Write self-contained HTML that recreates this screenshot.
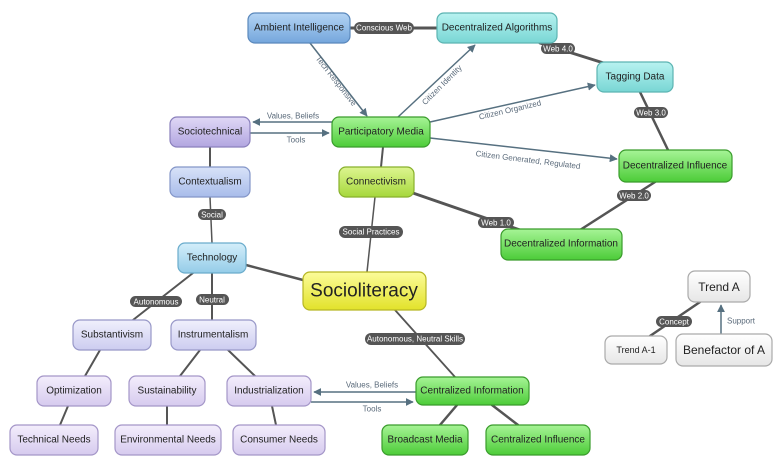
<!DOCTYPE html>
<html><head><meta charset="utf-8"><style>
html,body{margin:0;padding:0;background:#fff;}
svg{display:block;font-family:"Liberation Sans",sans-serif;}
.n{font-size:10px;fill:#222;text-anchor:middle;dominant-baseline:central;}
.pl{font-size:8px;fill:#fff;text-anchor:middle;dominant-baseline:central;}
.al{font-size:8px;fill:#5a6a7a;text-anchor:middle;dominant-baseline:central;}
</style></head><body>
<svg width="780" height="462" viewBox="0 0 780 462">
<defs>
<linearGradient id="gb" x1="0" y1="0" x2="0" y2="1"><stop offset="0" stop-color="#b4d4f4"/><stop offset="1" stop-color="#74a6dc"/></linearGradient>
<linearGradient id="gc" x1="0" y1="0" x2="0" y2="1"><stop offset="0" stop-color="#b8f2f0"/><stop offset="1" stop-color="#78d6d4"/></linearGradient>
<linearGradient id="gg" x1="0" y1="0" x2="0" y2="1"><stop offset="0" stop-color="#a6f496"/><stop offset="1" stop-color="#4ccc38"/></linearGradient>
<linearGradient id="gl" x1="0" y1="0" x2="0" y2="1"><stop offset="0" stop-color="#ddf590"/><stop offset="1" stop-color="#a6d83c"/></linearGradient>
<linearGradient id="gp" x1="0" y1="0" x2="0" y2="1"><stop offset="0" stop-color="#e0d8f6"/><stop offset="1" stop-color="#b2a6e0"/></linearGradient>
<linearGradient id="gx" x1="0" y1="0" x2="0" y2="1"><stop offset="0" stop-color="#d8e2f8"/><stop offset="1" stop-color="#a8bcea"/></linearGradient>
<linearGradient id="gt" x1="0" y1="0" x2="0" y2="1"><stop offset="0" stop-color="#d4eefa"/><stop offset="1" stop-color="#94cce8"/></linearGradient>
<linearGradient id="gs" x1="0" y1="0" x2="0" y2="1"><stop offset="0" stop-color="#f0f0fc"/><stop offset="1" stop-color="#ccccf0"/></linearGradient>
<linearGradient id="gn" x1="0" y1="0" x2="0" y2="1"><stop offset="0" stop-color="#f4eefc"/><stop offset="1" stop-color="#d6caee"/></linearGradient>
<linearGradient id="gy" x1="0" y1="0" x2="0" y2="1"><stop offset="0" stop-color="#fcfc9a"/><stop offset="1" stop-color="#e2e22a"/></linearGradient>
<linearGradient id="gw" x1="0" y1="0" x2="0" y2="1"><stop offset="0" stop-color="#ffffff"/><stop offset="1" stop-color="#e6e6e6"/></linearGradient>
<marker id="ar" viewBox="0 0 10 10" refX="9" refY="5" markerWidth="8" markerHeight="8" orient="auto-start-reverse" markerUnits="userSpaceOnUse"><path d="M0,0 L10,5 L0,10 z" fill="#567080"/></marker>
</defs>

<g stroke="#555" fill="none" stroke-linecap="round">
<line x1="350" y1="28" x2="437" y2="28" stroke-width="3"/>
<line x1="540" y1="43" x2="610" y2="65" stroke-width="3"/>
<line x1="640" y1="92" x2="668" y2="150" stroke-width="2.5"/>
<line x1="655" y1="182" x2="580" y2="230" stroke-width="2.5"/>
<line x1="410" y1="192" x2="520" y2="230" stroke-width="3"/>
<line x1="383" y1="147" x2="381" y2="167" stroke-width="2"/>
<line x1="375" y1="197" x2="367" y2="272" stroke-width="1.5"/>
<line x1="210" y1="147" x2="210" y2="167" stroke-width="2"/>
<line x1="210" y1="197" x2="212" y2="243" stroke-width="1.5"/>
<line x1="246" y1="265" x2="303" y2="280" stroke-width="2.5"/>
<line x1="193" y1="273" x2="133" y2="320" stroke-width="2"/>
<line x1="212" y1="273" x2="212" y2="320" stroke-width="2"/>
<line x1="100" y1="350" x2="85" y2="376" stroke-width="2"/>
<line x1="200" y1="350" x2="180" y2="376" stroke-width="2"/>
<line x1="228" y1="350" x2="255" y2="376" stroke-width="2"/>
<line x1="68" y1="406" x2="60" y2="425" stroke-width="2"/>
<line x1="167" y1="406" x2="167" y2="425" stroke-width="2"/>
<line x1="272" y1="406" x2="276" y2="425" stroke-width="2"/>
<line x1="395" y1="310" x2="455" y2="377" stroke-width="1.8"/>
<line x1="457" y1="405" x2="440" y2="425" stroke-width="2.5"/>
<line x1="492" y1="405" x2="518" y2="425" stroke-width="2.5"/>
<line x1="700" y1="302" x2="650" y2="336" stroke-width="2.5"/>
</g>
<g stroke="#567080" stroke-width="1.5" fill="none">
<line x1="310" y1="43" x2="367" y2="116" marker-end="url(#ar)"/>
<line x1="398" y1="117" x2="475" y2="45" marker-end="url(#ar)"/>
<line x1="430" y1="122" x2="595" y2="85" marker-end="url(#ar)"/>
<line x1="430" y1="138" x2="617" y2="159" marker-end="url(#ar)"/>
<line x1="332" y1="122" x2="253" y2="122" marker-end="url(#ar)"/>
<line x1="250" y1="133" x2="329" y2="133" marker-end="url(#ar)"/>
<line x1="416" y1="392" x2="314" y2="392" marker-end="url(#ar)"/>
<line x1="311" y1="402" x2="413" y2="402" marker-end="url(#ar)"/>
<line x1="721" y1="334" x2="721" y2="305" marker-end="url(#ar)"/>
</g>

<g fill="#555">
<rect x="354" y="22" width="60" height="12" rx="6"/>
<rect x="541" y="43" width="34" height="11" rx="5.5"/>
<rect x="634" y="107" width="34" height="11" rx="5.5"/>
<rect x="617" y="190" width="34" height="11" rx="5.5"/>
<rect x="478" y="217" width="36" height="11" rx="5.5"/>
<rect x="198" y="209" width="28" height="11" rx="5.5"/>
<rect x="339" y="226" width="64" height="12" rx="6"/>
<rect x="130" y="296" width="52" height="11" rx="5.5"/>
<rect x="196" y="294" width="33" height="11" rx="5.5"/>
<rect x="365" y="333" width="100" height="12" rx="6"/>
<rect x="656" y="316" width="36" height="11" rx="5.5"/>
</g>
<g class="pl">
<text x="384" y="28">Conscious Web</text>
<text x="558" y="49">Web 4.0</text>
<text x="651" y="113">Web 3.0</text>
<text x="634" y="196">Web 2.0</text>
<text x="496" y="223">Web 1.0</text>
<text x="212" y="215">Social</text>
<text x="371" y="232">Social Practices</text>
<text x="156" y="302">Autonomous</text>
<text x="212" y="300">Neutral</text>
<text x="415" y="339">Autonomous, Neutral Skills</text>
<text x="674" y="322">Concept</text>
</g>
<g class="al">
<text x="293" y="116">Values, Beliefs</text>
<text x="296" y="140">Tools</text>
<text x="336" y="81" transform="rotate(52 336 81)">Tech Responsive</text>
<text x="442" y="85" transform="rotate(-45 442 85)">Citizen Identity</text>
<text x="510" y="110" transform="rotate(-13 510 110)">Citizen Organized</text>
<text x="528" y="160" transform="rotate(7 528 160)">Citizen Generated, Regulated</text>
<text x="372" y="385">Values, Beliefs</text>
<text x="372" y="409">Tools</text>
<text x="741" y="321">Support</text>
</g>

<g stroke-width="1.2">
<rect x="248" y="13" width="102" height="30" rx="7" fill="url(#gb)" stroke="#5a88bc"/>
<rect x="437" y="13" width="120" height="30" rx="7" fill="url(#gc)" stroke="#5cb4b2"/>
<rect x="597" y="62" width="76" height="30" rx="7" fill="url(#gc)" stroke="#5cb4b2"/>
<rect x="170" y="117" width="80" height="30" rx="7" fill="url(#gp)" stroke="#8a80bc"/>
<rect x="332" y="117" width="98" height="30" rx="7" fill="url(#gg)" stroke="#3a9c2c"/>
<rect x="619" y="150" width="113" height="32" rx="7" fill="url(#gg)" stroke="#3a9c2c"/>
<rect x="170" y="167" width="80" height="30" rx="7" fill="url(#gx)" stroke="#8496c8"/>
<rect x="339" y="167" width="75" height="30" rx="7" fill="url(#gl)" stroke="#88b02c"/>
<rect x="501" y="229" width="121" height="31" rx="7" fill="url(#gg)" stroke="#3a9c2c"/>
<rect x="178" y="243" width="68" height="30" rx="7" fill="url(#gt)" stroke="#6aaccc"/>
<rect x="303" y="272" width="123" height="38" rx="7" fill="url(#gy)" stroke="#b6b624"/>
<rect x="73" y="320" width="78" height="30" rx="7" fill="url(#gs)" stroke="#9898c8"/>
<rect x="171" y="320" width="85" height="30" rx="7" fill="url(#gs)" stroke="#9898c8"/>
<rect x="37" y="376" width="74" height="30" rx="7" fill="url(#gn)" stroke="#a496c8"/>
<rect x="129" y="376" width="76" height="30" rx="7" fill="url(#gn)" stroke="#a496c8"/>
<rect x="227" y="376" width="84" height="30" rx="7" fill="url(#gn)" stroke="#a496c8"/>
<rect x="416" y="377" width="113" height="28" rx="7" fill="url(#gg)" stroke="#3a9c2c"/>
<rect x="10" y="425" width="88" height="30" rx="7" fill="url(#gn)" stroke="#a496c8"/>
<rect x="115" y="425" width="106" height="30" rx="7" fill="url(#gn)" stroke="#a496c8"/>
<rect x="233" y="425" width="92" height="30" rx="7" fill="url(#gn)" stroke="#a496c8"/>
<rect x="382" y="425" width="86" height="30" rx="7" fill="url(#gg)" stroke="#3a9c2c"/>
<rect x="486" y="425" width="104" height="30" rx="7" fill="url(#gg)" stroke="#3a9c2c"/>
<rect x="688" y="271" width="62" height="31" rx="7" fill="url(#gw)" stroke="#aaa"/>
<rect x="605" y="336" width="62" height="28" rx="7" fill="url(#gw)" stroke="#aaa"/>
<rect x="676" y="334" width="96" height="32" rx="7" fill="url(#gw)" stroke="#aaa"/>
</g>
<g class="n">
<text x="299" y="28">Ambient Intelligence</text>
<text x="497" y="28">Decentralized Algorithms</text>
<text x="635" y="77">Tagging Data</text>
<text x="210" y="132">Sociotechnical</text>
<text x="381" y="132">Participatory Media</text>
<text x="675" y="166">Decentralized Influence</text>
<text x="210" y="182">Contextualism</text>
<text x="376" y="182">Connectivism</text>
<text x="561" y="244">Decentralized Information</text>
<text x="212" y="258">Technology</text>
<text x="364" y="291" style="font-size:19px">Socioliteracy</text>
<text x="112" y="335">Substantivism</text>
<text x="213" y="335">Instrumentalism</text>
<text x="74" y="391">Optimization</text>
<text x="167" y="391">Sustainability</text>
<text x="269" y="391">Industrialization</text>
<text x="472" y="391">Centralized Information</text>
<text x="54" y="440">Technical Needs</text>
<text x="168" y="440">Environmental Needs</text>
<text x="279" y="440">Consumer Needs</text>
<text x="425" y="440">Broadcast Media</text>
<text x="538" y="440">Centralized Influence</text>
<text x="719" y="287" style="font-size:12px">Trend A</text>
<text x="636" y="350" style="font-size:9px">Trend A-1</text>
<text x="724" y="350" style="font-size:12px">Benefactor of A</text>
</g>
</svg>
</body></html>
